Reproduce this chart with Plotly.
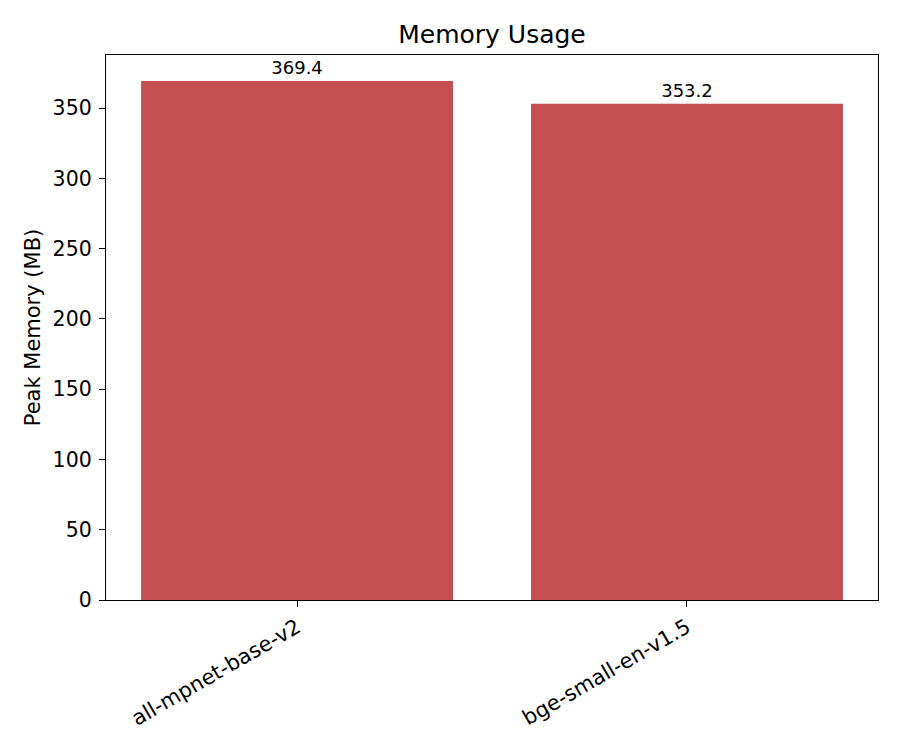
import plotly.graph_objects as go

# values
models = ["all-mpnet-base-v2", "bge-small-en-v1.5"]
peak_mb = [369.4, 353.2]
y_ticks = [0, 50, 100, 150, 200, 250, 300, 350]

font = "DejaVu Sans, sans-serif"

fig = go.Figure()
fig.add_trace(go.Bar(
    x=list(range(len(models))),
    y=peak_mb,
    width=0.8,
    marker=dict(color="#C44E52", line=dict(width=0)),
    text=[f"{v:.1f}" for v in peak_mb],
    textposition="outside",
    textfont=dict(family=font, size=18, color="black"),
    cliponaxis=False,
))

# the page sits ~8px in from the window corner, margins allow for that
fig.update_layout(
    width=900, height=750,
    margin=dict(l=98, r=30, t=47, b=158),
    paper_bgcolor="white", plot_bgcolor="white",
    font=dict(family=font, size=21, color="black"),
    title=dict(text="Memory Usage", xref="paper", x=0.5, xanchor="center",
               y=0.965, yanchor="middle", font=dict(size=25)),
    showlegend=False,
)

fig.update_xaxes(
    range=[-0.49, 1.49],
    tickvals=list(range(len(models))), ticktext=models, tickangle=-30,
    tickfont=dict(size=21),
    showline=True, linecolor="black", linewidth=1.3, mirror=True,
    ticks="outside", ticklen=6, tickwidth=1.3, tickcolor="black",
    showgrid=False, zeroline=False,
)
fig.update_yaxes(
    range=[0, 387.87], tickvals=y_ticks,
    tickfont=dict(size=20.5), ticklabelstandoff=3,
    title=dict(text="Peak Memory (MB)", standoff=6, font=dict(size=21)),
    showline=True, linecolor="black", linewidth=1.3, mirror=True,
    ticks="outside", ticklen=6, tickwidth=1.3, tickcolor="black",
    showgrid=False, zeroline=False,
)

fig.write_html("out.html")
